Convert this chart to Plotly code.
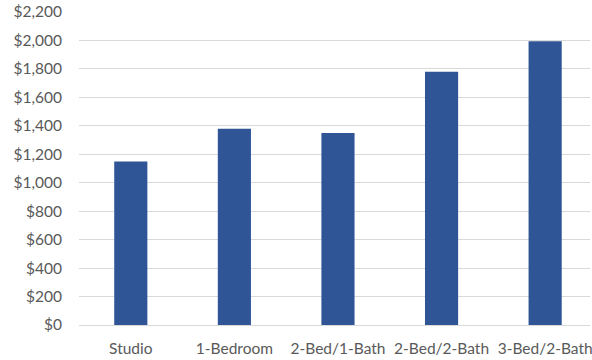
import plotly.graph_objects as go

categories = ["Studio", "1-Bedroom", "2-Bed/1-Bath", "2-Bed/2-Bath", "3-Bed/2-Bath"]
rents = [1150, 1380, 1350, 1780, 1995]
y_ticks = list(range(0, 2201, 200))
y_tick_labels = ["$" + format(v, ",") for v in y_ticks]

fig = go.Figure(go.Bar(
    x=list(range(len(categories))),
    y=rents,
    width=0.32,
    marker=dict(color="#2F5597", line=dict(width=0)),
))

font = dict(family="Lato, Carlito, Calibri, sans-serif", size=15.5, color="#595959")

fig.update_layout(
    width=592, height=360,
    margin=dict(l=79, r=0, t=12, b=35),
    paper_bgcolor="white", plot_bgcolor="white",
    showlegend=False,
    font=font,
    xaxis=dict(
        range=[-0.5, 4.433],
        tickmode="array",
        tickvals=list(range(len(categories))),
        ticktext=categories,
        showgrid=False, zeroline=False, showline=False,
        ticks="", ticklabelstandoff=12,
        ticklabeloverflow="allow",
        fixedrange=True,
    ),
    yaxis=dict(
        range=[0, 2200],
        tickmode="array",
        tickvals=y_ticks,
        ticktext=y_tick_labels,
        showgrid=True, gridcolor="#D9D9D9", gridwidth=1,
        zeroline=True, zerolinecolor="#D9D9D9", zerolinewidth=1,
        showline=False, ticks="", ticklabelstandoff=16,
        fixedrange=True,
    ),
)

fig.write_html("out.html", config={"displayModeBar": False})
